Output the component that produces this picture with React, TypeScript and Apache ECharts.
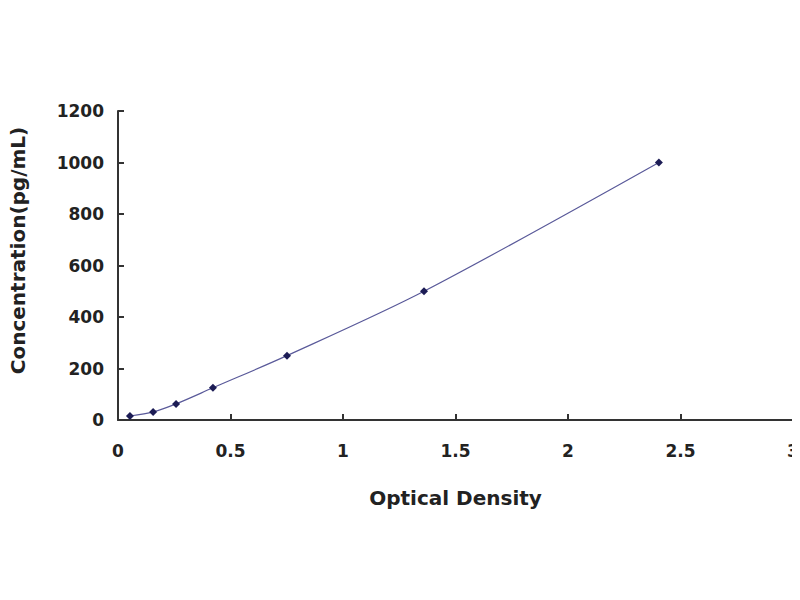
import React, { useEffect, useRef } from 'react';
import * as echarts from 'echarts';

// standard curve: optical density vs concentration
const opticalDensity = [0.053, 0.156, 0.258, 0.422, 0.751, 1.36, 2.404];
const concentration = [15.6, 31.25, 62.5, 125, 250, 500, 1000];
const xTicks = [0, 0.5, 1, 1.5, 2, 2.5, 3];
const yTicks = [0, 200, 400, 600, 800, 1000, 1200];

const App: React.FC = () => {
  const chartRef = useRef<HTMLDivElement>(null);

  useEffect(() => {
    if (!chartRef.current) return undefined;
    const chart = echarts.init(chartRef.current, undefined, { renderer: 'svg' });

    const labelStyle = {
      fontFamily: 'DejaVu Sans, sans-serif',
      fontWeight: 'bold' as const,
      fontSize: 17,
      color: '#222',
    };

    chart.setOption({
      animation: false,
      backgroundColor: '#fff',
      grid: { left: 118, right: 7, top: 111, bottom: 180, outerBoundsMode: 'none' },
      xAxis: {
        type: 'value',
        min: xTicks[0],
        max: xTicks[xTicks.length - 1],
        interval: 0.5,
        name: 'Optical Density',
        nameLocation: 'middle',
        nameGap: 68,
        nameTextStyle: { ...labelStyle, fontSize: 20 },
        axisLine: { lineStyle: { color: '#333', width: 2 } },
        axisTick: { inside: true, length: 6, lineStyle: { color: '#333', width: 2 } },
        axisLabel: { ...labelStyle, margin: 22, formatter: (v: number) => String(v) },
        splitLine: { show: false },
      },
      yAxis: {
        type: 'value',
        min: yTicks[0],
        max: yTicks[yTicks.length - 1],
        interval: 200,
        name: 'Concentration(pg/mL)',
        nameLocation: 'middle',
        nameGap: 90,
        nameTextStyle: { ...labelStyle, fontSize: 20, padding: [0, 0, 0, 30] },
        axisLine: { show: true, lineStyle: { color: '#333', width: 2 } },
        axisTick: { show: true, inside: true, length: 6, lineStyle: { color: '#333', width: 2 } },
        axisLabel: { ...labelStyle, margin: 14, formatter: (v: number) => String(v) },
        splitLine: { show: false },
      },
      series: [
        {
          type: 'line',
          smooth: 0.3,
          data: opticalDensity.map((x, i) => [x, concentration[i]]),
          symbol: 'diamond',
          symbolSize: 8,
          itemStyle: { color: '#1c1c55' },
          lineStyle: { color: '#5a5a9a', width: 1.2 },
        },
      ],
    });

    return () => {
      chart.dispose();
    };
  }, []);

  return <div ref={chartRef} style={{ width: '800px', height: '600px', margin: '-8px' }} />;
};

export default App;
